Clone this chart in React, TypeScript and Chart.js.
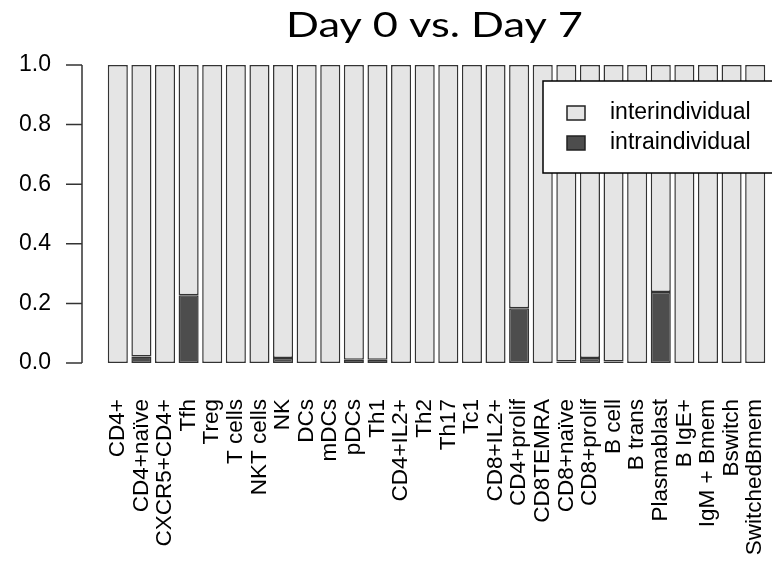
import { useEffect, useRef } from "react";
import { Chart, registerables } from "chart.js";

Chart.register(...registerables);

const TITLE = "Day 0 vs. Day 7";
const CATEGORIES = [
  "CD4+", "CD4+naïve", "CXCR5+CD4+", "Tfh", "Treg", "T cells", "NKT cells", "NK",
  "DCs", "mDCs", "pDCs", "Th1", "CD4+IL2+", "Th2", "Th17", "Tc1", "CD8+IL2+",
  "CD4+prolif", "CD8TEMRA", "CD8+naïve", "CD8+prolif", "B cell", "B trans",
  "Plasmablast", "B IgE+", "IgM + Bmem", "Bswitch", "SwitchedBmem",
];
const INTRA = [
  0, 0.022, 0, 0.227, 0, 0, 0, 0.017, 0, 0, 0.011, 0.011, 0, 0, 0, 0, 0,
  0.184, 0, 0.005, 0.017, 0.005, 0, 0.238, 0, 0, 0, 0,
];
const INTER = [
  1, 0.978, 1, 0.773, 1, 1, 1, 0.983, 1, 1, 0.989, 0.989, 1, 1, 1, 1, 1,
  0.816, 1, 0.995, 0.983, 0.995, 1, 0.762, 1, 1, 1, 1,
];
const Y_TICKS = [0, 0.2, 0.4, 0.6, 0.8, 1.0];
const SERIES_LABELS = ["interindividual", "intraindividual"];

const LIGHT = "#e5e5e5";
const DARK = "#4d4d4d";
const EDGE = "#333333";
const FONT = "'Liberation Sans', Arial, sans-serif";

const rPlugin = {
  id: "rStyle",
  afterDraw(chart: any) {
    const { ctx, chartArea } = chart;
    const y = chart.scales.y;
    ctx.save();
    // y axis (R style, offset from bars)
    ctx.strokeStyle = "#333333";
    ctx.lineWidth = 1.5;
    const ax = chartArea.left - 24;
    ctx.beginPath();
    ctx.moveTo(ax, y.getPixelForValue(Y_TICKS[0]));
    ctx.lineTo(ax, y.getPixelForValue(Y_TICKS[Y_TICKS.length - 1]));
    for (const v of Y_TICKS) {
      const py = y.getPixelForValue(v);
      ctx.moveTo(ax - 16, py);
      ctx.lineTo(ax, py);
    }
    ctx.stroke();

    // title
    ctx.fillStyle = "#000";
    ctx.font = "35px Lato, 'Open Sans', sans-serif";
    const w = ctx.measureText(TITLE).width;
    const target = 297;
    const cx = (chartArea.left + chartArea.right) / 2 - 2;
    ctx.save();
    ctx.translate(cx, chartArea.top - 28);
    ctx.scale(target / w, 1);
    ctx.textAlign = "center";
    ctx.textBaseline = "alphabetic";
    ctx.fillText(TITLE, 0, 0);
    ctx.restore();

    // legend
    const lx = chartArea.right - 224;
    const ly = chartArea.top + 16;
    ctx.fillStyle = "#ffffff";
    ctx.fillRect(lx, ly, 260, 92);
    ctx.strokeStyle = "#000";
    ctx.lineWidth = 1.5;
    ctx.strokeRect(lx, ly, 260, 92);
    const fills = [LIGHT, DARK];
    ctx.font = "23px " + FONT;
    ctx.textBaseline = "middle";
    ctx.textAlign = "left";
    for (let i = 0; i < 2; i++) {
      const ry = ly + 32 + i * 30;
      ctx.fillStyle = fills[i];
      ctx.fillRect(lx + 24, ry - 7, 18, 14);
      ctx.strokeStyle = "#222";
      ctx.lineWidth = 1.5;
      ctx.strokeRect(lx + 24, ry - 7, 18, 14);
      ctx.fillStyle = "#000";
      ctx.fillText(SERIES_LABELS[i], lx + 67, ry);
    }
    ctx.restore();
  },
};

export default function App() {
  const ref = useRef<HTMLCanvasElement>(null);
  useEffect(() => {
    document.body.style.margin = "0";
    const chart = new Chart(ref.current!, {
      type: "bar",
      data: {
        labels: CATEGORIES,
        datasets: [
          {
            label: SERIES_LABELS[1],
            data: INTRA,
            backgroundColor: DARK,
            borderColor: EDGE,
            borderWidth: 1.5,
            borderSkipped: false,
            barPercentage: 0.85,
            categoryPercentage: 1,
          },
          {
            label: SERIES_LABELS[0],
            data: INTER,
            backgroundColor: LIGHT,
            borderColor: EDGE,
            borderWidth: 1.5,
            borderSkipped: false,
            barPercentage: 0.85,
            categoryPercentage: 1,
          },
        ],
      },
      options: {
        animation: false,
        responsive: false,
        devicePixelRatio: 1,
        layout: { padding: { top: 65, right: 5, left: 0, bottom: 0 } },
        plugins: {
          legend: { display: false },
          title: { display: false },
          tooltip: { enabled: false },
        },
        scales: {
          x: {
            stacked: true,
            grid: { display: false, drawTicks: false },
            border: { display: false },
            ticks: {
              autoSkip: false,
              maxRotation: 90,
              minRotation: 90,
              padding: 36,
              color: "#000",
              font: { family: FONT, size: 22.5 },
            },
            afterFit: (s: any) => {
              s.height = 202;
              s.paddingLeft = 0;
              s.paddingRight = 0;
            },
          },
          y: {
            stacked: true,
            min: 0,
            max: 1,
            grid: { display: false, drawTicks: false },
            border: { display: false },
            afterBuildTicks: (s: any) => {
              s.ticks = Y_TICKS.map((v) => ({ value: v }));
            },
            ticks: {
              padding: 55,
              color: "#000",
              font: { family: FONT, size: 23 },
              callback: (v: any) => Number(v).toFixed(1),
            },
            afterFit: (s: any) => {
              s.width = 106;
              s.paddingTop = 0;
              s.paddingBottom = 0;
            },
          },
        },
      },
      plugins: [rPlugin],
    });
    return () => chart.destroy();
  }, []);
  return (
    <div style={{ position: "fixed", left: 0, top: 0, width: 772, height: 565, background: "#fff" }}>
      <canvas ref={ref} width={772} height={565} />
    </div>
  );
}
